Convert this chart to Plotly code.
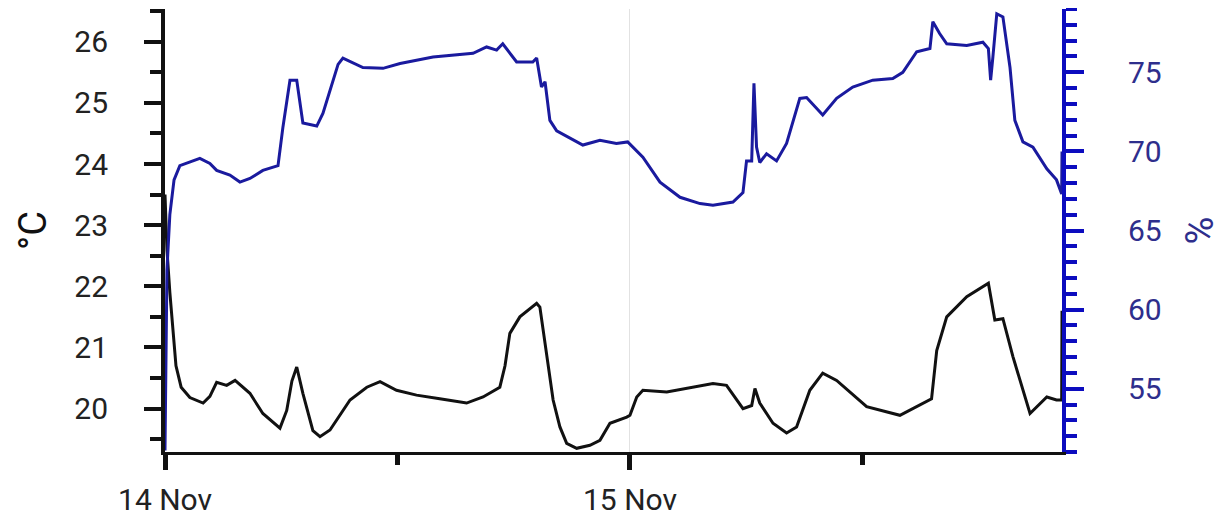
import plotly.graph_objects as go

# Temperature series (°C)
temp_time = [
    "2023-11-14 00:00", "2023-11-14 00:06", "2023-11-14 00:15", "2023-11-14 00:25",
    "2023-11-14 00:34", "2023-11-14 00:50", "2023-11-14 01:17", "2023-11-14 01:58",
    "2023-11-14 02:19", "2023-11-14 02:40", "2023-11-14 03:11", "2023-11-14 03:37",
    "2023-11-14 04:23", "2023-11-14 05:03", "2023-11-14 05:56", "2023-11-14 06:17",
    "2023-11-14 06:33", "2023-11-14 06:48", "2023-11-14 07:07", "2023-11-14 07:38",
    "2023-11-14 08:00", "2023-11-14 08:31", "2023-11-14 09:33", "2023-11-14 10:25",
    "2023-11-14 11:06", "2023-11-14 11:57", "2023-11-14 12:59", "2023-11-14 14:11",
    "2023-11-14 15:34", "2023-11-14 16:25", "2023-11-14 17:17", "2023-11-14 17:33",
    "2023-11-14 17:48", "2023-11-14 18:19", "2023-11-14 19:11", "2023-11-14 19:21",
    "2023-11-14 20:02", "2023-11-14 20:23", "2023-11-14 20:44", "2023-11-14 21:15",
    "2023-11-14 21:56", "2023-11-14 22:27", "2023-11-14 22:58", "2023-11-14 23:50",
    "2023-11-15 00:00", "2023-11-15 00:21", "2023-11-15 00:40", "2023-11-15 01:54",
    "2023-11-15 03:15", "2023-11-15 04:17", "2023-11-15 04:59", "2023-11-15 05:50",
    "2023-11-15 06:17", "2023-11-15 06:27", "2023-11-15 06:42", "2023-11-15 07:23",
    "2023-11-15 08:05", "2023-11-15 08:36", "2023-11-15 09:17", "2023-11-15 09:57",
    "2023-11-15 10:40", "2023-11-15 12:13", "2023-11-15 13:56", "2023-11-15 14:48",
    "2023-11-15 15:34", "2023-11-15 15:50", "2023-11-15 16:21", "2023-11-15 17:23",
    "2023-11-15 18:30", "2023-11-15 18:50", "2023-11-15 19:15", "2023-11-15 19:46",
    "2023-11-15 20:39", "2023-11-15 21:31", "2023-11-15 22:01", "2023-11-15 22:17",
    "2023-11-15 22:18",
]
temp_value = [
    23.5, 22.6, 21.9, 21.2,
    20.7, 20.35, 20.18, 20.09,
    20.2, 20.43, 20.38, 20.46,
    20.25, 19.92, 19.68, 19.97,
    20.45, 20.68, 20.25, 19.64,
    19.54, 19.65, 20.14, 20.35,
    20.44, 20.3, 20.22, 20.16,
    20.09, 20.19, 20.35, 20.7,
    21.23, 21.5, 21.72, 21.66,
    20.14, 19.7, 19.43, 19.35,
    19.4, 19.48, 19.76, 19.86,
    19.89, 20.19, 20.3, 20.27,
    20.35, 20.41, 20.38, 20.0,
    20.05, 20.33, 20.09, 19.76,
    19.6, 19.7, 20.3, 20.58,
    20.46, 20.03, 19.89, 20.03,
    20.16, 20.95, 21.5, 21.83,
    22.05, 21.45, 21.47, 20.85,
    19.92, 20.19, 20.14, 20.14,
    21.6,
]

# Relative humidity series (%)
hum_time = [
    "2023-11-14 00:00", "2023-11-14 00:06", "2023-11-14 00:15", "2023-11-14 00:28",
    "2023-11-14 00:46", "2023-11-14 01:48", "2023-11-14 02:19", "2023-11-14 02:40",
    "2023-11-14 03:21", "2023-11-14 03:52", "2023-11-14 04:23", "2023-11-14 05:03",
    "2023-11-14 05:50", "2023-11-14 06:05", "2023-11-14 06:27", "2023-11-14 06:48",
    "2023-11-14 07:07", "2023-11-14 07:50", "2023-11-14 08:09", "2023-11-14 08:56",
    "2023-11-14 09:11", "2023-11-14 10:13", "2023-11-14 11:15", "2023-11-14 12:08",
    "2023-11-14 13:50", "2023-11-14 15:54", "2023-11-14 16:36", "2023-11-14 17:07",
    "2023-11-14 17:26", "2023-11-14 18:09", "2023-11-14 18:59", "2023-11-14 19:11",
    "2023-11-14 19:26", "2023-11-14 19:37", "2023-11-14 19:52", "2023-11-14 20:13",
    "2023-11-14 21:34", "2023-11-14 22:27", "2023-11-14 23:18", "2023-11-14 23:53",
    "2023-11-15 00:40", "2023-11-15 01:33", "2023-11-15 02:35", "2023-11-15 03:37",
    "2023-11-15 04:17", "2023-11-15 05:19", "2023-11-15 05:50", "2023-11-15 06:01",
    "2023-11-15 06:17", "2023-11-15 06:24", "2023-11-15 06:32", "2023-11-15 06:42",
    "2023-11-15 07:03", "2023-11-15 07:34", "2023-11-15 08:05", "2023-11-15 08:46",
    "2023-11-15 09:07", "2023-11-15 09:57", "2023-11-15 10:40", "2023-11-15 11:30",
    "2023-11-15 12:32", "2023-11-15 13:34", "2023-11-15 14:05", "2023-11-15 14:48",
    "2023-11-15 15:29", "2023-11-15 15:38", "2023-11-15 15:59", "2023-11-15 16:21",
    "2023-11-15 17:23", "2023-11-15 18:13", "2023-11-15 18:30", "2023-11-15 18:37",
    "2023-11-15 18:44", "2023-11-15 18:56", "2023-11-15 19:15", "2023-11-15 19:37",
    "2023-11-15 19:52", "2023-11-15 20:17", "2023-11-15 20:48", "2023-11-15 21:31",
    "2023-11-15 22:01", "2023-11-15 22:17", "2023-11-15 22:18",
]
hum_value = [
    51.1, 62.5, 66.0, 68.2,
    69.1, 69.56, 69.24, 68.8,
    68.5, 68.06, 68.29, 68.8,
    69.1, 71.5, 74.5, 74.5,
    71.8, 71.6, 72.4, 75.5,
    75.9, 75.3, 75.25, 75.55,
    75.97, 76.2, 76.6, 76.4,
    76.8, 75.65, 75.65, 75.9,
    74.07, 74.4, 71.96, 71.3,
    70.4, 70.7, 70.5, 70.6,
    69.64, 68.06, 67.1, 66.7,
    66.6, 66.8, 67.4, 69.4,
    69.4, 74.3, 70.27, 69.3,
    69.85, 69.4, 70.5, 73.35,
    73.4, 72.3, 73.35, 74.07,
    74.5, 74.6, 75.0, 76.3,
    76.5, 78.2, 77.45, 76.8,
    76.7, 76.9, 76.5, 74.5,
    75.97, 78.7, 78.5, 75.3,
    71.96, 70.6, 70.27, 68.9,
    68.2, 67.3, 70.0,
]

x_major = ["2023-11-14 00:00", "2023-11-15 00:00"]
x_major_text = ["14 Nov", "15 Nov"]
x_minor = ["2023-11-14 12:00", "2023-11-15 12:00"]
x_range = ["2023-11-14 00:00", "2023-11-15 22:18"]

temp_ticks = [20, 21, 22, 23, 24, 25, 26]
hum_ticks = [55, 60, 65, 70, 75]

BLUE_AXIS = "#0c0cbf"
BLUE_LINE = "#1a1a9e"
BLUE_TEXT = "#2e2e8c"
FONT = "Roboto"

fig = go.Figure()
fig.add_trace(go.Scatter(x=temp_time, y=temp_value, mode="lines",
                         line=dict(color="#111111", width=3), yaxis="y",
                         showlegend=False))
fig.add_trace(go.Scatter(x=hum_time, y=hum_value, mode="lines",
                         line=dict(color=BLUE_LINE, width=3), yaxis="y2",
                         showlegend=False))

# the page body has an 8px default margin, so the figure is sized to fit inside it
fig.update_layout(
    width=1214, height=512,
    margin=dict(l=157, r=160, t=1, b=68),
    paper_bgcolor="white", plot_bgcolor="white",
    font=dict(family=FONT, size=30, color="#222222"),
    xaxis=dict(
        type="date", range=x_range, automargin=False,
        tickmode="array", tickvals=x_major, ticktext=x_major_text,
        ticks="outside", ticklen=15, tickwidth=5, tickcolor="#111111",
        showline=True, linewidth=3, linecolor="#111111",
        showgrid=True, gridcolor="#e2e2e2", gridwidth=1,
        zeroline=False, ticklabelstandoff=4,
        tickfont=dict(size=30, color="#222222"),
        minor=dict(tickmode="array", tickvals=x_minor, ticks="outside",
                   ticklen=10, tickwidth=5, tickcolor="#111111", showgrid=False),
    ),
    yaxis=dict(
        range=[19.29, 26.535], automargin=False,
        tickmode="array", tickvals=temp_ticks,
        ticks="outside", ticklen=17, tickwidth=4, tickcolor="#111111",
        showline=True, linewidth=4, linecolor="#111111",
        showgrid=False, zeroline=False, ticklabelstandoff=30,
        tickfont=dict(size=30, color="#222222"),
        minor=dict(ticks="outside", ticklen=11, tickwidth=4, tickcolor="#111111",
                   dtick=0.5, tick0=19.5, showgrid=False),
        title=dict(text="°C", font=dict(size=38, color="#111111"), standoff=17),
    ),
    yaxis2=dict(
        range=[51, 79], overlaying="y", side="right", automargin=False,
        tickmode="array", tickvals=hum_ticks,
        ticks="outside", ticklen=18, tickwidth=4, tickcolor=BLUE_AXIS,
        showline=True, linewidth=4, linecolor=BLUE_AXIS,
        showgrid=False, zeroline=False, ticklabelstandoff=38,
        tickfont=dict(size=30, color=BLUE_TEXT),
        minor=dict(ticks="outside", ticklen=11, tickwidth=4, tickcolor=BLUE_AXIS,
                   dtick=1, tick0=51, showgrid=False),
        title=dict(text="%", font=dict(size=38, color=BLUE_TEXT), standoff=30),
    ),
)

fig.write_html("out.html")
